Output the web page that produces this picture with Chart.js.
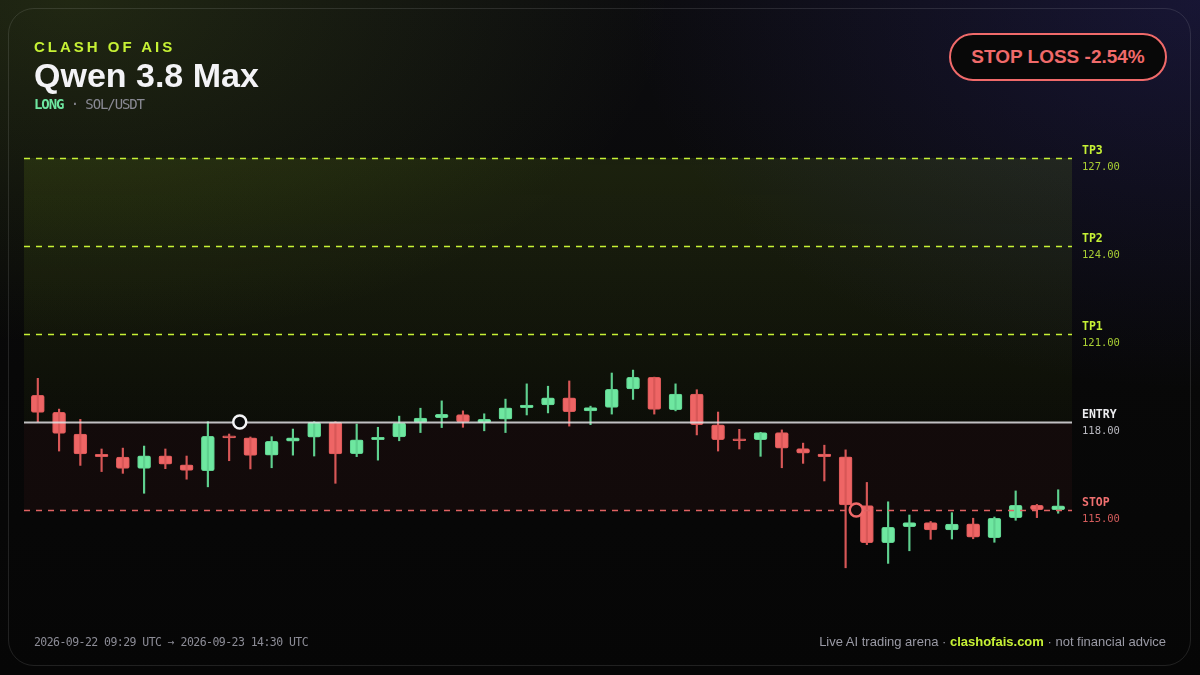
<!DOCTYPE html>
<html>
<head>
<meta charset="utf-8">
<script src="https://cdn.jsdelivr.net/npm/chart.js@4.4.1/dist/chart.umd.min.js"></script>
<style>
  html, body { margin:0; padding:0; }
  body {
    width:1200px; height:675px; overflow:hidden; position:relative;
    background:
      radial-gradient(ellipse 800px 460px at 6% 0%, rgba(150,195,40,0.15), rgba(150,195,40,0) 75%),
      radial-gradient(ellipse 760px 520px at 100% 0%, rgba(70,60,200,0.20), rgba(70,60,200,0) 75%),
      linear-gradient(180deg, #0c0c0f 0%, #080808 55%, #060606 100%);
    font-family: "Liberation Sans", Arial, sans-serif;
  }
  .card {
    position:absolute; left:8px; top:8px; width:1181px; height:656px;
    border:1.5px solid rgba(255,255,255,0.11); border-radius:26px;
  }
  #chart { position:absolute; left:0; top:0; }
  .brand { position:absolute; left:34px; top:38px; font-weight:700; font-size:15px; letter-spacing:3px; color:#c6f135; }
  .title { position:absolute; left:34px; top:56px; font-weight:700; font-size:34px; color:#f3f3f6; }
  .sub { position:absolute; left:34px; top:96px; font-family:"DejaVu Sans Mono", monospace; font-size:14px; letter-spacing:-1.1px; color:#8a8a94; }
  .sub .dir { color:#6ee7a0; font-weight:700; }
  .badge {
    position:absolute; left:949px; top:33px; width:214px; height:44px;
    border:2px solid #f06a6a; border-radius:26px; background:#080808;
    color:#f06a6a; font-weight:700; font-size:19px; text-align:center; line-height:44px;
  }
  .foot-l { position:absolute; left:34px; top:635px; font-family:"DejaVu Sans Mono", monospace; font-size:11.5px; letter-spacing:-0.55px; color:#8c8c96; }
  .foot-r { position:absolute; right:34px; top:634px; font-size:13px; color:#9a9aa5; }
  .foot-r b { color:#c6f135; }
</style>
</head>
<body>
<div class="card"></div>
<canvas id="chart" width="1200" height="675"></canvas>
<div class="brand">CLASH OF AIS</div>
<div class="title">Qwen 3.8 Max</div>
<div class="sub"><span class="dir">LONG</span> · SOL/USDT</div>
<div class="badge">STOP LOSS -2.54%</div>
<div class="foot-l">2026-09-22 09:29 UTC → 2026-09-23 14:30 UTC</div>
<div class="foot-r">Live AI trading arena · <b>clashofais.com</b> · not financial advice</div>
<script>
// ---- data ----
const opens  = [118.91,118.33,117.59,116.90,116.80,116.42,116.85,116.54,116.34,117.53,117.46,116.87,117.35,117.48,117.99,116.92,117.40,117.49,117.99,118.15,118.25,117.98,118.10,118.49,118.58,118.82,118.38,118.50,119.13,119.52,118.42,118.95,117.90,117.41,117.40,117.64,117.09,116.91,116.81,115.15,113.89,114.43,114.57,114.32,114.53,114.06,114.74,115.16,115.01];
const highs  = [119.49,118.44,118.09,117.08,117.11,117.18,117.08,116.84,118.01,117.59,117.49,117.50,117.76,118.01,118.01,117.93,117.82,118.20,118.47,118.72,118.38,118.28,118.78,119.30,119.22,119.40,118.54,119.67,119.77,119.53,119.30,119.10,118.34,117.75,117.65,117.73,117.28,117.21,117.05,115.94,115.28,114.83,114.61,114.91,114.72,114.76,115.65,115.19,115.69];
const lows   = [118.01,117.01,116.52,116.31,116.25,115.57,116.41,116.05,115.79,116.68,116.40,116.44,116.87,116.84,115.91,116.82,116.70,117.36,117.64,117.81,117.82,117.70,117.64,118.24,118.31,117.86,117.91,118.27,118.77,118.27,118.38,117.56,117.01,117.08,116.83,116.44,116.59,115.99,113.03,113.82,113.18,113.61,114.00,114.01,114.02,113.90,114.65,114.74,114.89];
const closes = [118.33,117.61,116.91,116.82,116.42,116.85,116.56,116.35,117.51,117.46,116.86,117.34,117.46,117.99,116.91,117.39,117.48,117.96,118.13,118.26,118.00,118.09,118.48,118.58,118.82,118.35,118.49,119.11,119.52,118.43,118.95,117.91,117.40,117.36,117.64,117.11,116.94,116.82,115.17,113.89,114.41,114.57,114.32,114.52,114.07,114.72,115.16,115.01,115.14];
const levelNames  = ['TP3','TP2','TP1','ENTRY','STOP'];
const levelValues = [127, 124, 121, 118, 115];
const entryMarker = [9.5, 118];
const stopMarker  = [38.5, 115];

// ---- styling ----
const UP = '#6ee7a0', UP_W = '#5fd08f', DOWN = '#ee6565', DOWN_W = '#d85757';
const LIME = '#c6f135';
const levelStyle = {
  TP3:   {line: LIME, dash:[6,6], w:1.5, name: LIME, val:'#a9cf34'},
  TP2:   {line: LIME, dash:[6,6], w:1.5, name: LIME, val:'#a9cf34'},
  TP1:   {line: LIME, dash:[6,6], w:1.5, name: LIME, val:'#a9cf34'},
  ENTRY: {line: 'rgba(225,225,228,0.85)', dash:[], w:2, name:'#ececef', val:'#b9b9c0'},
  STOP:  {line: '#e06262', dash:[6,6], w:1.5, name:'#f07070', val:'#d45c5c'}
};

const idx = opens.map((_, i) => i);
const up = idx.map(i => closes[i] >= opens[i]);
const bodyData = idx.map(i => ({x: i, y: [opens[i], closes[i]]}));
const wickData = idx.map(i => ({x: i, y: [lows[i], highs[i]]}));

const levelsPlugin = {
  id: 'levels',
  beforeDatasetsDraw(chart) {
    const {ctx, chartArea: a, scales: {y}} = chart;
    const yTop = y.getPixelForValue(levelValues[0]);
    const yEntry = y.getPixelForValue(levelValues[3]);
    const yStop = y.getPixelForValue(levelValues[4]);
    ctx.save();
    const g = ctx.createLinearGradient(0, yTop, 0, yEntry);
    g.addColorStop(0, 'rgba(185,240,40,0.10)');
    g.addColorStop(1, 'rgba(185,240,40,0.03)');
    ctx.fillStyle = g;
    ctx.fillRect(a.left, yTop, a.right - a.left, yEntry - yTop);
    ctx.fillStyle = 'rgba(230,70,80,0.05)';
    ctx.fillRect(a.left, yEntry, a.right - a.left, yStop - yEntry);
    ctx.restore();
  },
  beforeDatasetDraw(chart, args) {
    if (args.index !== 2) return;
    const {ctx, chartArea: a, scales: {y}} = chart;
    ctx.save();
    levelNames.forEach((n, k) => {
      const s = levelStyle[n];
      const py = Math.round(y.getPixelForValue(levelValues[k])) + 0.5;
      ctx.strokeStyle = s.line; ctx.lineWidth = s.w; ctx.setLineDash(s.dash);
      ctx.beginPath(); ctx.moveTo(a.left, py); ctx.lineTo(a.right, py); ctx.stroke();
    });
    ctx.restore();
  },
  afterDraw(chart) {
    const {ctx, chartArea: a, scales: {y}} = chart;
    ctx.save();
    ctx.textBaseline = 'middle'; ctx.textAlign = 'left';
    levelNames.forEach((n, k) => {
      const s = levelStyle[n];
      const py = y.getPixelForValue(levelValues[k]);
      ctx.fillStyle = s.name; ctx.font = 'bold 11.5px "DejaVu Sans Mono"';
      ctx.fillText(n, a.right + 10, py - 7);
      ctx.fillStyle = s.val; ctx.font = '10.5px "DejaVu Sans Mono"';
      ctx.fillText(levelValues[k].toFixed(2), a.right + 10, py + 9);
    });
    ctx.restore();
  }
};

new Chart(document.getElementById('chart'), {
  type: 'bar',
  data: {
    datasets: [
      { type: 'bar', data: bodyData, order: 2, grouped: false, barThickness: 13,
        backgroundColor: idx.map(i => up[i] ? UP : DOWN),
        borderColor: idx.map(i => up[i] ? UP_W : DOWN_W),
        borderWidth: 1, borderRadius: 2, borderSkipped: false, minBarLength: 2 },
      { type: 'bar', data: wickData, order: 1, grouped: false, barThickness: 1.5,
        backgroundColor: idx.map(i => up[i] ? UP_W : DOWN_W), borderWidth: 0 },
      { type: 'scatter', order: 0,
        data: [{x: entryMarker[0], y: entryMarker[1]}, {x: stopMarker[0], y: stopMarker[1]}],
        pointRadius: 6.5, pointBorderWidth: 2.5,
        pointBackgroundColor: ['#0b0b0b', '#120b0c'],
        pointBorderColor: ['#f4f4f6', '#f06a6a'] }
    ]
  },
  options: {
    responsive: false, animation: false,
    layout: { padding: { left: 24, right: 128, top: 130, bottom: 55 } },
    plugins: { legend: { display: false }, tooltip: { enabled: false } },
    scales: {
      x: { type: 'linear', min: -0.65, max: 48.65, display: false, offset: false },
      y: { type: 'linear', min: 111.25, max: 127.955, display: false }
    }
  },
  plugins: [levelsPlugin]
});
</script>
</body>
</html>
